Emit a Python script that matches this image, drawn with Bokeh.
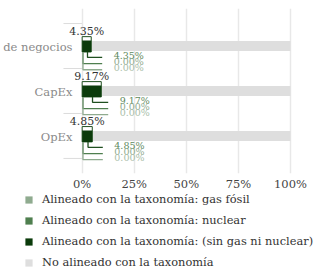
from bokeh.plotting import figure
from bokeh.layouts import column
from bokeh.models import Range1d, FixedTicker, Legend, LegendItem
from bokeh.core.properties import value
from bokeh.embed import file_html
from bokeh.resources import INLINE

# ---- data ----
categories = ["Volumen de negocios", "CapEx", "OpEx"]
gas_fosil = [0.00, 0.00, 0.00]
nuclear = [0.00, 0.00, 0.00]
sin_gas_ni_nuclear = [4.35, 9.17, 4.85]
no_alineado = [95.65, 90.83, 95.15]
tick_values = [0, 25, 50, 75, 100]
tick_labels = ["0%", "25%", "50%", "75%", "100%"]
series_labels = [
    "Alineado con la taxonomía: gas fósil",
    "Alineado con la taxonomía: nuclear",
    "Alineado con la taxonomía: (sin gas ni nuclear)",
    "No alineado con la taxonomía",
]

# ---- styles ----
FONT = "DejaVu Serif"
C_GAS = "#8fab8f"
C_NUC = "#4f7f4f"
C_DARK = "#0b3b0b"
C_GRAY = "#dedede"
L_DARK = "#1f4f1f"
T_COLORS = ["#5e8a5e", "#8fab8f", "#a9bea9"]  # sin gas, nuclear, gas labels

PX_X = 2.083   # pixels per percent
PX_Y = 45.5    # pixels per category


def dx(px):
    return px / PX_X


def dy(px):
    return px / PX_Y


n = len(categories)
yc = [n - 0.5 - i for i in range(n)]

gas_l = [0.0] * n
gas_r = [a + b for a, b in zip(gas_l, gas_fosil)]
nuc_l = gas_r
nuc_r = [a + b for a, b in zip(nuc_l, nuclear)]
dark_l = nuc_r
dark_r = [a + b for a, b in zip(dark_l, sin_gas_ni_nuclear)]
gray_l = dark_r
gray_r = [a + b for a, b in zip(gray_l, no_alineado)]

p = figure(width=315, height=193,
           x_range=Range1d(-39.2, 112), y_range=Range1d(-0.335, n + 0.335),
           output_backend="svg", toolbar_location=None,
           min_border_left=0, min_border_right=0, min_border_top=8, min_border_bottom=0)
p.outline_line_color = None
p.yaxis.visible = False
p.ygrid.visible = False
p.xgrid.ticker = FixedTicker(ticks=tick_values)
p.xgrid.grid_line_color = "#e8e8e8"
p.xgrid.grid_line_width = 1.5
p.xaxis.ticker = FixedTicker(ticks=tick_values)
p.xaxis.major_label_overrides = {v: l for v, l in zip(tick_values, tick_labels)}
p.xaxis.axis_line_color = None
p.xaxis.major_tick_line_color = None
p.xaxis.minor_tick_line_color = None
p.xaxis.major_tick_out = 0
p.xaxis.major_label_standoff = 3
p.xaxis.major_label_text_font = FONT
p.xaxis.major_label_text_font_size = "11.5px"
p.xaxis.major_label_text_color = "#444444"

# category separators
bounds = list(range(n + 1))
p.segment(x0=[dx(-18.7)] * (n + 1), x1=[0] * (n + 1), y0=bounds, y1=bounds,
          line_color="#dcdcdc", line_width=1)

# gray bars
p.hbar(y=yc, left=gray_l, right=gray_r, height=dy(10),
       fill_color=C_GRAY, line_color=None)

# dark bars: outlined box + fill
p.quad(left=dark_l, right=dark_r,
       top=[y + dy(9.5) for y in yc], bottom=[y - dy(6) for y in yc],
       fill_color="white", line_color=L_DARK, line_width=1)
p.quad(left=dark_l, right=dark_r,
       top=[y + dy(5.5) for y in yc], bottom=[y - dy(6) for y in yc],
       fill_color=C_DARK, line_color=None)
p.hbar(y=yc, left=nuc_l, right=nuc_r, height=dy(10), fill_color=C_NUC, line_color=None)
p.hbar(y=yc, left=gas_l, right=gas_r, height=dy(10), fill_color=C_GAS, line_color=None)

# leader lines + labels
series = [
    (sin_gas_ni_nuclear, dark_l, L_DARK, 11.5, T_COLORS[0]),
    (nuclear, nuc_l, C_NUC, 17.8, T_COLORS[1]),
    (gas_fosil, gas_l, C_GAS, 24.0, T_COLORS[2]),
]
for vals, lefts, lcol, off, tcol in series:
    xs, ys, lx, ly, lt = [], [], [], [], []
    for i in range(n):
        end = sin_gas_ni_nuclear[i] * 0.6 + 7
        cx = lefts[i] + vals[i] / 2 + dx(0.8)
        yb = yc[i] - dy(6)
        yl = yc[i] - dy(off)
        xs.append([cx, cx, end])
        ys.append([yb, yl, yl])
        lx.append(end + dx(11.5))
        ly.append(yl + dy(2))
        lt.append(f"{vals[i]:.2f}%")
    p.multi_line(xs=xs, ys=ys, line_color=lcol, line_width=1.3)
    p.text(x=lx, y=ly, text=lt, text_font=value(FONT), text_font_size="9.5px",
           text_color=tcol, text_align="left", text_baseline="middle")

# total labels above bars
p.text(x=[l + v / 2 for l, v in zip(dark_l, sin_gas_ni_nuclear)],
       y=[y + dy(14.5) for y in yc],
       text=[f"{v:.2f}%" for v in sin_gas_ni_nuclear],
       text_font=value(FONT), text_font_size="11px", text_color="#333333",
       text_align="center", text_baseline="middle")

# category labels
p.text(x=[dx(-9.7)] * n, y=[y - dy(1) for y in yc], text=categories,
       text_font=value(FONT), text_font_size="11.5px", text_color="#8a8a8a",
       text_align="right", text_baseline="middle")

# ---- legend panel ----
lg = figure(width=315, height=74, x_range=Range1d(0, 1), y_range=Range1d(0, 1),
            output_backend="svg", toolbar_location=None,
            x_axis_location=None, y_axis_location=None,
            min_border_left=0, min_border_right=0, min_border_top=0, min_border_bottom=0)
lg.outline_line_color = None
lg.grid.visible = False
# legend proxies (same series, placed outside this panel's view)
off_y = [y - 10 for y in yc]
r_gas = lg.hbar(y=off_y, left=gas_l, right=gas_r, height=0.5, fill_color=C_GAS, line_color=None)
r_nuc = lg.hbar(y=off_y, left=nuc_l, right=nuc_r, height=0.5, fill_color=C_NUC, line_color=None)
r_dark = lg.hbar(y=off_y, left=dark_l, right=dark_r, height=0.5, fill_color=C_DARK, line_color=None)
r_gray = lg.hbar(y=off_y, left=gray_l, right=gray_r, height=0.5, fill_color=C_GRAY, line_color=None)

legend = Legend(items=[
    LegendItem(label=series_labels[0], renderers=[r_gas]),
    LegendItem(label=series_labels[1], renderers=[r_nuc]),
    LegendItem(label=series_labels[2], renderers=[r_dark]),
    LegendItem(label=series_labels[3], renderers=[r_gray]),
], location=(24, -2), orientation="vertical",
    glyph_width=9, glyph_height=9, label_standoff=9, spacing=7, label_height=13,
    padding=0, margin=0, border_line_color=None, background_fill_alpha=0,
    label_text_font=FONT, label_text_font_size="11.4px", label_text_color="#333333")
lg.add_layout(legend)

layout = column(p, lg, spacing=0)
open("out.html", "w").write(file_html(layout, INLINE))
